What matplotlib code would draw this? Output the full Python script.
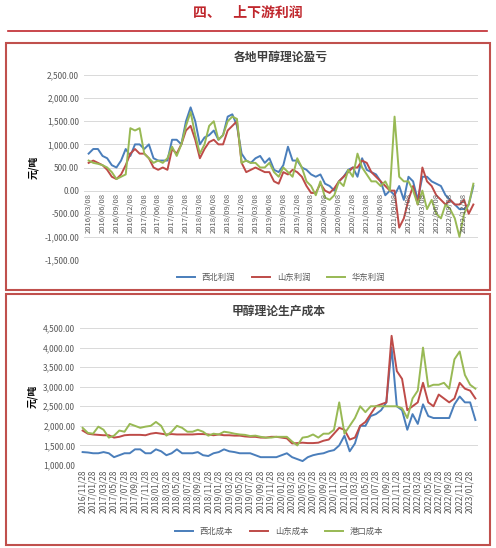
import matplotlib.pyplot as plt
import matplotlib.patches as patches
import numpy as np

plt.rcParams['font.family'] = ['Noto Sans CJK SC', 'DejaVu Sans']

# monthly profit readings, 2016/03 .. 2023/02
nw_profit = [800, 900, 900, 750, 700, 550, 500, 650, 900, 750,
             1000, 1000, 900, 1000, 700, 650, 650, 650, 1100, 1100, 1000, 1500,
             1800, 1500, 1000, 1150, 1200, 1300, 1100, 1200, 1600, 1650, 1400, 800,
             650, 600, 700, 750, 600, 700, 450, 400, 550, 950, 650, 650,
             500, 450, 350, 300, 350, 150, 100, 0, 200, 300, 450, 500,
             300, 700, 450, 400, 350, 200, -100, 0, -100, 100, -200, 300,
             200, -200, 300, 300, 200, 150, 100, -100, -200, -300, -400, -400,
             -300, 100]
sd_profit = [600, 650, 600, 550, 450, 300, 250, 350, 550, 800,
             900, 800, 800, 700, 500, 450, 500, 450, 900, 800, 1000, 1300,
             1400, 1100, 700, 900, 1050, 1100, 1000, 1000, 1300, 1400, 1500, 600,
             400, 450, 500, 450, 400, 400, 200, 150, 400, 350, 450, 400,
             300, 100, -50, -50, 150, 0, -50, 50, 200, 300, 400, 500,
             500, 650, 600, 400, 300, 200, 100, 0, 0, -800, -600, -200,
             100, -300, 500, 200, 100, -100, -200, -300, -200, -300, -300, -200,
             -500, -300]
ec_profit = [650, 600, 580, 550, 500, 400, 250, 300, 350, 1350,
             1300, 1350, 800, 700, 600, 650, 600, 700, 950, 750, 1000, 1400,
             1700, 1200, 800, 1000, 1400, 1500, 1100, 1200, 1500, 1600, 1550, 600,
             650, 600, 600, 500, 500, 600, 400, 300, 500, 400, 300, 700,
             500, 200, 100, -100, 200, -150, -200, -100, 200, 100, 450, 300,
             800, 500, 350, 200, 200, 100, 200, 0, 1600, 300, 200, 200,
             0, -300, 0, -400, -200, -500, -600, -300, -400, -600, -1000, -500,
             -300, 150]

# monthly cost readings, 2016/11 .. 2023/02
nw_cost = [1330, 1320,
           1300, 1300, 1330, 1300, 1200, 1250, 1300, 1300, 1400, 1400, 1300, 1300,
           1400, 1350, 1250, 1300, 1400, 1300, 1300, 1300, 1330, 1250, 1230, 1300,
           1330, 1400, 1350, 1330, 1300, 1300, 1300, 1250, 1200, 1200, 1200, 1200,
           1250, 1300, 1200, 1150, 1100, 1200, 1250, 1280, 1300, 1350, 1380, 1500,
           1750, 1350, 1550, 2000, 2000, 2250, 2300, 2400, 2600, 4000, 2500, 2400,
           1900, 2300, 2050, 2550, 2250, 2200, 2200, 2200, 2200, 2550, 2750, 2600,
           2600, 2150]
sd_cost = [1880, 1800,
           1780, 1770, 1760, 1760, 1700, 1720, 1760, 1770, 1770, 1770, 1760, 1800,
           1820, 1800, 1780, 1790, 1780, 1780, 1780, 1780, 1790, 1790, 1780, 1760,
           1780, 1760, 1760, 1750, 1750, 1730, 1720, 1720, 1700, 1700, 1720, 1720,
           1700, 1680, 1550, 1560, 1570, 1560, 1560, 1570, 1620, 1650, 1800, 1950,
           1900, 1650, 1700, 2000, 2100, 2300, 2500, 2550, 2600, 4300, 3400, 3200,
           2400, 2500, 2600, 3100, 2600, 2500, 2800, 2700, 2600, 2700, 3100, 2950,
           2900, 2700]
port_cost = [1950, 1820,
             1800, 1980, 1900, 1700, 1750, 1880, 1850, 2050, 2000, 1950, 1980, 2000,
             2100, 2000, 1750, 1850, 2000, 1950, 1850, 1850, 1900, 1850, 1750, 1800,
             1780, 1850, 1830, 1800, 1780, 1770, 1740, 1750, 1720, 1700, 1700, 1720,
             1720, 1720, 1600, 1500, 1700, 1720, 1780, 1700, 1800, 1800, 1900, 2600,
             1800, 2000, 2200, 2500, 2350, 2500, 2500, 2500, 2500, 2500, 2500, 2450,
             2200, 2700, 2900, 4000, 3000, 3050, 3050, 3100, 2950, 3700, 3900, 3300,
             3050, 2950]

def month_labels(y0, m0, n, step, day):
    out = []
    for i in range(0, n, step):
        m = m0 - 1 + i
        out.append((i, '%d/%02d/%s' % (y0 + m // 12, m % 12 + 1, day)))
    return out

top_ticks = month_labels(2016, 3, 84, 3, '08')
bot_ticks = month_labels(2016, 11, 76, 2, '28')

blue, red, green = '#4a7ebb', '#be4b48', '#98b954'
grey = '#595959'

fig = plt.figure(figsize=(4.96, 5.48), dpi=100)

# header
fig.text(0.5, 1 - 13/548, '四、    上下游利润', color='#c0272d', fontsize=10,
         fontweight='bold', ha='center', va='center')
fig.add_artist(plt.Line2D([8/496, 487/496], [1 - 31/548, 1 - 31/548],
                          color='#c0272d', lw=1.2))
for y0, y1 in [(43, 290), (294, 545)]:
    fig.add_artist(patches.Rectangle((6/496, 1 - y1/548), 484/496, (y1 - y0)/548,
                                     transform=fig.transFigure, fill=False,
                                     edgecolor='#c0504d', lw=1.5))

def style(ax):
    for s in ax.spines.values():
        s.set_visible(False)
    ax.tick_params(length=0, labelsize=6, colors=grey)
    ax.grid(axis='y', color='#d9d9d9', lw=0.7)
    ax.set_axisbelow(True)

# top chart
ax1 = fig.add_axes([84/496, 1 - 260/548, 394/496, 185/548])
x1 = np.arange(len(nw_profit))
ax1.plot(x1, nw_profit, color=blue, lw=1.4, label='西北利润')
ax1.plot(x1, sd_profit, color=red, lw=1.4, label='山东利润')
ax1.plot(x1, ec_profit, color=green, lw=1.4, label='华东利润')
ax1.set_ylim(-1500, 2500)
ax1.set_yticks(np.arange(-1500, 2501, 500))
ax1.set_yticklabels(['{:,.2f}'.format(v) for v in np.arange(-1500, 2501, 500)])
ax1.set_xlim(-1, len(nw_profit))
ax1.set_xticks([])
style(ax1)
for i, lab in top_ticks:
    ax1.text(i, -50, lab, rotation=90, ha='center', va='top', fontsize=5.5,
             color=grey)
ax1.set_ylabel('元/吨', fontsize=7, fontweight='bold', labelpad=4)
ax1.set_title('各地甲醇理论盈亏', fontsize=8.5, fontweight='bold', color='#404040',
              pad=10)
ax1.legend(loc='upper center', bbox_to_anchor=(0.5, -0.03), ncol=3, frameon=False,
           fontsize=6, handlelength=2.2, labelcolor=grey)

# bottom chart
ax2 = fig.add_axes([80/496, 1 - 465/548, 398/496, 137/548])
x2 = np.arange(len(nw_cost))
ax2.plot(x2, nw_cost, color=blue, lw=1.4, label='西北成本')
ax2.plot(x2, sd_cost, color=red, lw=1.4, label='山东成本')
ax2.plot(x2, port_cost, color=green, lw=1.4, label='港口成本')
ax2.set_ylim(1000, 4500)
ax2.set_yticks(np.arange(1000, 4501, 500))
ax2.set_yticklabels(['{:,.2f}'.format(v) for v in np.arange(1000, 4501, 500)])
ax2.set_xlim(-0.5, len(nw_cost) - 0.5)
ax2.set_xticks([t[0] for t in bot_ticks])
ax2.set_xticklabels([t[1] for t in bot_ticks], rotation=90, fontsize=5.5)
style(ax2)
ax2.set_ylabel('元/吨', fontsize=7, fontweight='bold', labelpad=4)
ax2.set_title('甲醇理论生产成本', fontsize=8.5, fontweight='bold', color='#404040',
              pad=10)
ax2.legend(loc='upper center', bbox_to_anchor=(0.5, -0.4), ncol=3, frameon=False,
           fontsize=6, handlelength=2.2, labelcolor=grey)

fig.savefig('out.png', dpi=100)
